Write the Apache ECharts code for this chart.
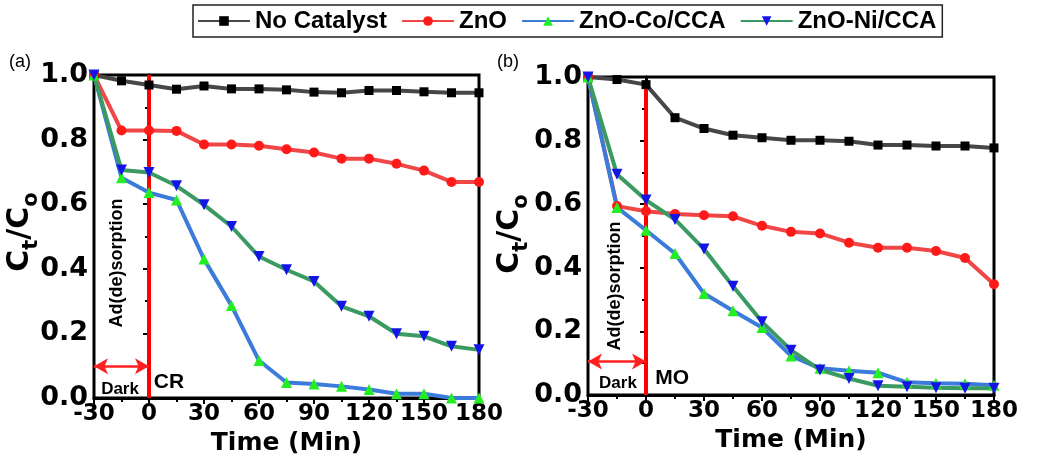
<!DOCTYPE html>
<html>
<head>
<meta charset="utf-8">
<title>Ct/Co vs time</title>
<script src="https://cdn.jsdelivr.net/npm/echarts@6/dist/echarts.min.js"></script>
<style>
  html, body { margin: 0; padding: 0; background: #fff; }
  #chart { width: 1037px; height: 461px; }
</style>
</head>
<body>
<div id="chart"></div>
<script>
  // time axis (min), same for both panels
  var times = [-30, -15, 0, 15, 30, 45, 60, 75, 90, 105, 120, 135, 150, 165, 180];

  // panel (a) - CR
  var crNoCat = [1.0, 0.982, 0.969, 0.956, 0.966, 0.957, 0.957, 0.954, 0.947, 0.945, 0.952, 0.952, 0.948, 0.945, 0.945];
  var crZnO   = [1.0, 0.828, 0.828, 0.827, 0.785, 0.785, 0.781, 0.770, 0.760, 0.741, 0.741, 0.725, 0.704, 0.669, 0.669];
  var crCo    = [1.0, 0.682, 0.636, 0.613, 0.430, 0.286, 0.116, 0.048, 0.043, 0.036, 0.026, 0.013, 0.013, 0.0, 0.0];
  var crNi    = [1.0, 0.706, 0.698, 0.657, 0.598, 0.531, 0.438, 0.397, 0.361, 0.284, 0.253, 0.199, 0.191, 0.160, 0.149];

  // panel (b) - MO
  var moNoCat = [1.0, 0.992, 0.976, 0.872, 0.838, 0.817, 0.809, 0.801, 0.801, 0.798, 0.786, 0.786, 0.783, 0.783, 0.777];
  var moZnO   = [1.0, 0.594, 0.578, 0.569, 0.565, 0.562, 0.532, 0.513, 0.508, 0.479, 0.463, 0.463, 0.453, 0.431, 0.348];
  var moCo    = [1.0, 0.590, 0.518, 0.445, 0.319, 0.265, 0.212, 0.123, 0.084, 0.076, 0.070, 0.040, 0.037, 0.035, 0.031];
  var moNi    = [1.0, 0.694, 0.613, 0.552, 0.459, 0.342, 0.230, 0.141, 0.079, 0.052, 0.029, 0.026, 0.023, 0.021, 0.021];

  var names = ['No Catalyst', 'ZnO', 'ZnO-Co/CCA', 'ZnO-Ni/CCA'];
  var xTicks = [-30, 0, 30, 60, 90, 120, 150, 180];
  var yTicks = [0, 0.2, 0.4, 0.6, 0.8, 1.0];

  var font = "'Liberation Sans', Arial, sans-serif";
  var heavy = "'DejaVu Sans', 'Liberation Sans', sans-serif";   // wide bold for axes

  var styles = [
    { line: '#474747', dot: '#000000', symbol: 'rect', size: 9, rotate: 0 },
    { line: '#f04646', dot: '#ff1a1a', symbol: 'circle', size: 10, rotate: 0 },
    { line: '#3a7bdc', dot: '#22ee22', symbol: 'triangle', size: 11, rotate: 0 },
    { line: '#3a9a62', dot: '#1414e6', symbol: 'triangle', size: 11, rotate: 180 }
  ];

  function pairs(vals) {
    return times.map(function (t, i) { return [t, vals[i]]; });
  }

  function dataSeries(idx, vals, gi) {
    var s = styles[idx];
    return {
      name: names[idx],
      type: 'line',
      xAxisIndex: gi,
      yAxisIndex: gi,
      data: pairs(vals),
      symbol: s.symbol,
      symbolSize: s.size,
      symbolRotate: s.rotate,
      showAllSymbol: true,
      clip: false,
      z: 3,
      lineStyle: { color: s.line, width: 4 },
      itemStyle: { color: s.dot, borderWidth: 0 }
    };
  }

  function xAxis(gi) {
    return {
      type: 'value',
      gridIndex: gi,
      min: -30,
      max: 180,
      interval: 30,
      name: 'Time (Min)',
      nameLocation: 'middle',
      nameGap: 28,
      nameTextStyle: { fontFamily: heavy, fontWeight: 'bold', fontSize: 25, color: '#000' },
      axisLine: { lineStyle: { color: '#000', width: 3 } },
      axisTick: { show: true, length: 6, lineStyle: { color: '#000', width: 2 } },
      minorTick: { show: true, splitNumber: 2, length: 4, lineStyle: { color: '#000', width: 2 } },
      splitLine: { show: false },
      axisLabel: {
        margin: 5,
        fontFamily: heavy, fontWeight: 'bold', fontSize: 23, color: '#000',
        customValues: xTicks
      }
    };
  }

  function yAxis(gi) {
    return {
      type: 'value',
      gridIndex: gi,
      min: 0,
      max: 1,
      interval: 0.2,
      axisLine: { lineStyle: { color: '#000', width: 3 } },
      axisTick: { show: true, length: 6, lineStyle: { color: '#000', width: 2 } },
      minorTick: { show: true, splitNumber: 2, length: 4, lineStyle: { color: '#000', width: 2 } },
      splitLine: { show: false },
      axisLabel: {
        margin: 6,
        fontFamily: heavy, fontWeight: 'bold', fontSize: 27, color: '#000',
        formatter: function (v) { return v.toFixed(1); },
        customValues: yTicks
      }
    };
  }

  // y title Ct/Co with subscripts, rotated to read upwards
  function yTitle(cx, cy) {
    return {
      type: 'text',
      x: cx,
      y: cy,
      rotation: Math.PI / 2,
      style: {
        text: '{c|C}{s|t}{c|/C}{s|o}',
        align: 'center',
        verticalAlign: 'middle',
        rich: {
          c: { fontFamily: heavy, fontWeight: 'bold', fontSize: 30, fill: '#000', verticalAlign: 'bottom', padding: [0, 0, 7, 0] },
          s: { fontFamily: heavy, fontWeight: 'bold', fontSize: 21, fill: '#000', verticalAlign: 'bottom' }
        }
      }
    };
  }

  // red "light on" line at t=0 plus the Dark arrow
  function markerSeries(gi, top, arrowY) {
    return {
      type: 'line',
      xAxisIndex: gi,
      yAxisIndex: gi,
      data: [[0, 0], [0, top]],
      symbol: 'none',
      silent: true,
      z: 2,
      lineStyle: { color: '#ff0000', width: 4 },
      markLine: {
        silent: true,
        symbol: ['arrow', 'arrow'],
        symbolSize: [12, 14],
        label: { show: false },
        lineStyle: { color: '#ff2020', width: 2.5, type: 'solid' },
        data: [[{ coord: [-30, arrowY] }, { coord: [0, arrowY] }]]
      }
    };
  }

  function textSeries(gi, items) {
    return {
      type: 'scatter',
      xAxisIndex: gi,
      yAxisIndex: gi,
      symbolSize: 0,
      silent: true,
      z: 4,
      itemStyle: { opacity: 1 },
      data: items.map(function (it) {
        return {
          value: [it.x, it.y],
          label: {
            show: true,
            position: 'inside',
            formatter: it.text,
            rotate: it.rotate || 0,
            fontFamily: font,
            fontWeight: 'bold',
            fontSize: it.size,
            color: '#000',
            opacity: 1
          }
        };
      })
    };
  }

  var chart = echarts.init(document.getElementById('chart'));

  var option = {
    backgroundColor: '#fff',
    animation: false,
    legend: {
      data: names,
      left: 193,
      top: 5,
      itemWidth: 52,
      itemHeight: 12,
      itemGap: 14,
      padding: [4, 6, 4, 4],
      borderColor: '#222',
      borderWidth: 1.5,
      textStyle: { fontFamily: font, fontWeight: 'bold', fontSize: 24, color: '#000' }
    },
    graphic: [
      { type: 'text', left: 9, top: 53, style: { text: '(a)', font: '18px ' + font, fill: '#000' } },
      { type: 'text', left: 497, top: 53, style: { text: '(b)', font: '18px ' + font, fill: '#000' } },
      yTitle(24, 232),
      yTitle(514, 234)
    ],
    grid: [
      { left: 94, top: 75, width: 385, height: 323, outerBoundsMode: 'none', show: true, borderColor: '#000', borderWidth: 3 },
      { left: 588, top: 77, width: 406, height: 318, outerBoundsMode: 'none', show: true, borderColor: '#000', borderWidth: 3 }
    ],
    xAxis: [xAxis(0), xAxis(1)],
    yAxis: [yAxis(0), yAxis(1)],
    series: [
      markerSeries(0, 1.0, 0.098),
      markerSeries(1, 0.984, 0.105),
      dataSeries(0, crNoCat, 0),
      dataSeries(1, crZnO, 0),
      dataSeries(2, crCo, 0),
      dataSeries(3, crNi, 0),
      dataSeries(0, moNoCat, 1),
      dataSeries(1, moZnO, 1),
      dataSeries(2, moCo, 1),
      dataSeries(3, moNi, 1),
      textSeries(0, [
        { text: 'Ad(de)sorption', x: -17.5, y: 0.418, rotate: 90, size: 18 },
        { text: 'Dark', x: -15.8, y: 0.026, size: 17 },
        { text: 'CR', x: 10.9, y: 0.048, size: 21 }
      ]),
      textSeries(1, [
        { text: 'Ad(de)sorption', x: -16, y: 0.343, rotate: 90, size: 18 },
        { text: 'Dark', x: -14.5, y: 0.038, size: 17 },
        { text: 'MO', x: 13.5, y: 0.053, size: 21 }
      ])
    ]
  };

  chart.setOption(option);
</script>
</body>
</html>
